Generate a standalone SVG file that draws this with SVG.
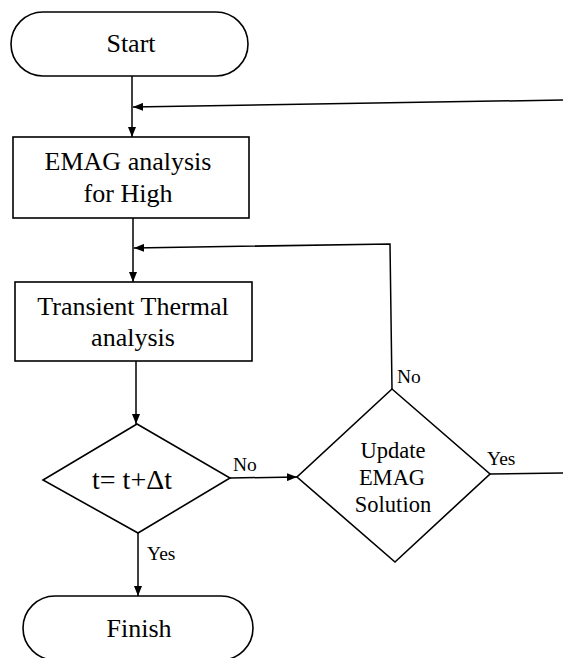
<svg xmlns="http://www.w3.org/2000/svg" width="563" height="658" viewBox="0 0 563 658">
<style>
.shape{fill:#fff;stroke:#000;stroke-width:1.6}
.line{fill:none;stroke:#000;stroke-width:1.5}
.t{font-family:"Liberation Serif","Times New Roman",serif;font-size:26px;fill:#000;text-anchor:middle}
.t2{font-family:"Liberation Serif","Times New Roman",serif;font-size:22.5px;fill:#000;text-anchor:middle}
.lbl{font-family:"Liberation Serif","Times New Roman",serif;font-size:19.5px;fill:#000}
</style>
<defs>
<marker id="arr" markerWidth="10" markerHeight="8" refX="10" refY="4" orient="auto" markerUnits="userSpaceOnUse">
<path d="M0,0 L10,4 L0,8 z" fill="#000"/>
</marker>
</defs>
<rect width="563" height="658" fill="#fff"/>
<g id="connectors">
<line class="line" x1="132" y1="76" x2="132" y2="137" marker-end="url(#arr)"/>
<line class="line" x1="563" y1="100" x2="133" y2="107" marker-end="url(#arr)"/>
<line class="line" x1="133" y1="218" x2="133" y2="282" marker-end="url(#arr)"/>
<polyline class="line" points="392,389 390,244 134,248" marker-end="url(#arr)"/>
<line class="line" x1="136" y1="361" x2="136" y2="424" marker-end="url(#arr)"/>
<line class="line" x1="230" y1="478" x2="297" y2="477" marker-end="url(#arr)"/>
<line class="line" x1="490" y1="474" x2="563" y2="473"/>
<line class="line" x1="138" y1="533" x2="138" y2="596" marker-end="url(#arr)"/>
<text class="lbl" x="233" y="471">No</text>
<text class="lbl" x="397" y="383">No</text>
<text class="lbl" x="487" y="465">Yes</text>
<text class="lbl" x="147" y="560">Yes</text>
</g>
<g id="start">
<rect class="shape" x="11" y="12" width="237" height="64" rx="32" ry="32"/>
<text class="t" x="131" y="52">Start</text>
</g>
<g id="emag">
<rect class="shape" x="13" y="137" width="236" height="81"/>
<text class="t" x="128" y="170">EMAG analysis</text>
<text class="t" x="128" y="202">for High</text>
</g>
<g id="thermal">
<rect class="shape" x="15" y="282" width="237" height="79"/>
<text class="t" x="133" y="315">Transient Thermal</text>
<text class="t" x="133" y="346">analysis</text>
</g>
<g id="decision-time">
<polygon class="shape" points="137,424 230,478 138,533 43,480"/>
<text class="t" x="132" y="489" style="font-size:28px">t= t+Δt</text>
</g>
<g id="decision-update">
<polygon class="shape" points="392,389 490,474 395,562 297,477"/>
<text class="t2" x="393" y="458">Update</text>
<text class="t2" x="392" y="485">EMAG</text>
<text class="t2" x="393" y="512">Solution</text>
</g>
<g id="finish">
<rect class="shape" x="23" y="596" width="230" height="64" rx="32" ry="32"/>
<text class="t" x="139" y="637">Finish</text>
</g>
</svg>
